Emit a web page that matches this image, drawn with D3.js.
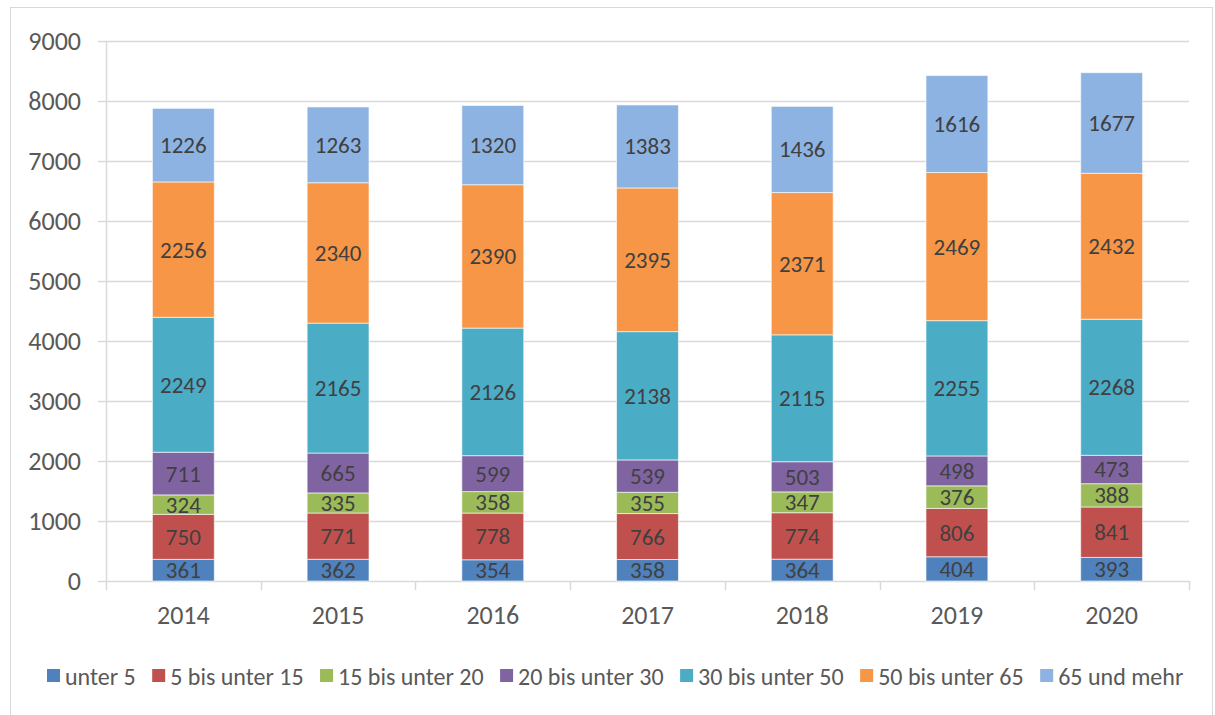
<!DOCTYPE html>
<html>
<head>
<meta charset="utf-8">
<script src="https://cdn.jsdelivr.net/npm/d3@7"></script>
<style>
  body { margin: 0; background: #fff; }
  svg { display: block; font-family: Carlito, Calibri, Lato, sans-serif; }
</style>
</head>
<body>
<div id="chart"></div>
<script>
// Werte aus der Grafik
const years = ["2014", "2015", "2016", "2017", "2018", "2019", "2020"];
const groups = ["unter 5", "5 bis unter 15", "15 bis unter 20", "20 bis unter 30",
  "30 bis unter 50", "50 bis unter 65", "65 und mehr"];
const colors = ["#4F81BD", "#C0504D", "#9BBB59", "#8064A2", "#4BACC6", "#F79646", "#8DB3E2"];
const unter5 = [361, 362, 354, 358, 364, 404, 393];
const von5bis15 = [750, 771, 778, 766, 774, 806, 841];
const von15bis20 = [324, 335, 358, 355, 347, 376, 388];
const von20bis30 = [711, 665, 599, 539, 503, 498, 473];
const von30bis50 = [2249, 2165, 2126, 2138, 2115, 2255, 2268];
const von50bis65 = [2256, 2340, 2390, 2395, 2371, 2469, 2432];
const ab65 = [1226, 1263, 1320, 1383, 1436, 1616, 1677];
const yTicks = [0, 1000, 2000, 3000, 4000, 5000, 6000, 7000, 8000, 9000];

const series = [unter5, von5bis15, von15bis20, von20bis30, von30bis50, von50bis65, ab65];

const width = 1215, height = 715;
const margin = { top: 41, right: 26, bottom: 134, left: 106 };

const svg = d3.select("#chart").append("svg")
  .attr("width", width)
  .attr("height", height);

// cadre du graphique
svg.append("rect")
  .attr("x", 10.5).attr("y", 7.5)
  .attr("width", 1202).attr("height", 720)
  .attr("fill", "none")
  .attr("stroke", "#d9d9d9");

const x = d3.scaleBand()
  .domain(years)
  .range([margin.left, width - margin.right])
  .paddingInner(0.6)
  .paddingOuter(0.3);

const y = d3.scaleLinear()
  .domain([0, 9000])
  .range([height - margin.bottom, margin.top]);

// gridlines
svg.append("g")
  .selectAll("line")
  .data(yTicks)
  .enter()
  .append("line")
  .attr("x1", margin.left - 8)
  .attr("x2", width - margin.right)
  .attr("y1", (d) => Math.round(y(d)) + 0.5)
  .attr("y2", (d) => Math.round(y(d)) + 0.5)
  .attr("stroke", "#d9d9d9")
  .attr("stroke-width", 1.5);

// y axis labels
svg.append("g")
  .selectAll("text")
  .data(yTicks)
  .enter()
  .append("text")
  .attr("x", 81)
  .attr("y", (d) => y(d))
  .attr("text-anchor", "end")
  .attr("dominant-baseline", "central")
  .style("font-size", "26px")
  .style("fill", "#595959")
  .text((d) => d);

// vertical axis line
svg.append("line")
  .attr("x1", margin.left + 0.5).attr("x2", margin.left + 0.5)
  .attr("y1", y(9000)).attr("y2", y(0))
  .attr("stroke", "#d9d9d9").attr("stroke-width", 1.5);

// category tick marks
const catEdges = years.map((d, i) => margin.left + i * (width - margin.left - margin.right) / years.length);
catEdges.push(width - margin.right);
svg.append("g")
  .selectAll("line")
  .data(catEdges)
  .enter()
  .append("line")
  .attr("x1", (d) => Math.round(d) + 0.5)
  .attr("x2", (d) => Math.round(d) + 0.5)
  .attr("y1", y(0))
  .attr("y2", y(0) + 9)
  .attr("stroke", "#d9d9d9")
  .attr("stroke-width", 1.5);

// stacked data
const table = years.map((yr, i) => {
  const row = { year: yr };
  groups.forEach((g, k) => { row[g] = series[k][i]; });
  return row;
});
const stacked = d3.stack().keys(groups)(table);

const layers = svg.append("g")
  .selectAll("g")
  .data(stacked)
  .enter()
  .append("g")
  .attr("fill", (d, i) => colors[i]);

layers.selectAll("rect")
  .data((d) => d)
  .enter()
  .append("rect")
  .attr("x", (d) => x(d.data.year))
  .attr("width", x.bandwidth())
  .attr("y", (d) => y(d[1]))
  .attr("height", (d) => y(d[0]) - y(d[1]))
  .attr("stroke", "rgba(255,255,255,0.6)")
  .attr("stroke-width", 1);

layers.selectAll("text")
  .data((d) => d)
  .enter()
  .append("text")
  .attr("x", (d) => x(d.data.year) + x.bandwidth() / 2)
  .attr("y", (d) => (y(d[0]) + y(d[1])) / 2)
  .attr("text-anchor", "middle")
  .attr("dominant-baseline", "central")
  .style("font-size", "23px")
  .style("fill", "#404040")
  .text((d) => d[1] - d[0]);

// year labels
svg.append("g")
  .selectAll("text")
  .data(years)
  .enter()
  .append("text")
  .attr("x", (d) => x(d) + x.bandwidth() / 2)
  .attr("y", 615)
  .attr("text-anchor", "middle")
  .attr("dominant-baseline", "central")
  .style("font-size", "26px")
  .style("fill", "#595959")
  .text((d) => d);

// legend
const legend = svg.append("g");
let lx = 47;
groups.forEach((g, i) => {
  legend.append("rect")
    .attr("x", lx).attr("y", 669)
    .attr("width", 13).attr("height", 13)
    .attr("fill", colors[i]);
  const t = legend.append("text")
    .attr("x", lx + 18)
    .attr("y", 676)
    .attr("dominant-baseline", "central")
    .style("font-size", "24px")
    .style("fill", "#595959")
    .text(g);
  lx += 18 + t.node().getComputedTextLength() + 16.5;
});
</script>
</body>
</html>
